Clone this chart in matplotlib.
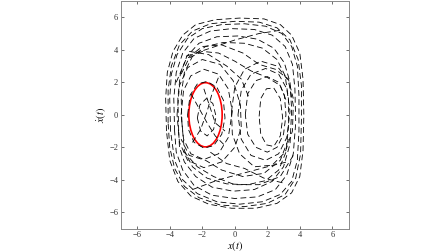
import numpy as np
import matplotlib
matplotlib.use("Agg")
import matplotlib.pyplot as plt
from matplotlib.patches import Ellipse

plt.rcParams['font.family'] = ['Liberation Serif', 'DejaVu Serif']
plt.rcParams['mathtext.fontset'] = 'stix'

# hand-read (x, xdot) waypoints of the trajectory, one list per visible loop
outer_1 = [(-4.2, -1.0), (-4.25, 1.0), (-4.15, 2.6), (-3.8, 3.9), (-3.2, 4.9), (-2.4, 5.55),
           (-1.2, 5.85), (0.3, 5.95), (1.8, 5.9), (2.8, 5.55), (3.5, 4.9), (4.0, 3.8),
           (4.2, 2.2), (4.25, 0.0), (4.2, -2.2), (4.0, -3.8), (3.5, -4.8), (2.6, -5.45),
           (1.3, -5.75), (-0.2, -5.75), (-1.6, -5.5), (-2.7, -5.0), (-3.5, -4.1),
           (-4.0, -2.8), (-4.2, -1.0)]
outer_2 = [(-3.95, -1.0), (-4.0, 1.0), (-3.9, 2.5), (-3.55, 3.7), (-2.9, 4.7), (-2.0, 5.3),
           (-0.8, 5.55), (0.6, 5.6), (1.9, 5.45), (2.9, 5.0), (3.5, 4.2), (3.85, 3.0),
           (3.95, 1.2), (3.95, -1.0), (3.85, -2.8), (3.5, -4.1), (2.8, -4.9), (1.7, -5.35),
           (0.3, -5.5), (-1.1, -5.35), (-2.3, -4.85), (-3.2, -4.0), (-3.7, -2.8), (-3.95, -1.0)]
outer_3 = [(-3.7, -1.0), (-3.75, 1.0), (-3.6, 2.6), (-3.2, 3.8), (-2.5, 4.7), (-1.5, 5.15),
           (-0.2, 5.3), (1.2, 5.25), (2.3, 4.9), (3.1, 4.2), (3.55, 3.1), (3.7, 1.6),
           (3.75, -0.5), (3.6, -2.4), (3.2, -3.7), (2.5, -4.6), (1.4, -5.05), (0.0, -5.15),
           (-1.4, -4.95), (-2.5, -4.35), (-3.2, -3.4), (-3.6, -2.3), (-3.7, -1.0)]
outer_4 = [(-3.45, -1.0), (-3.5, 1.0), (-3.35, 2.5), (-2.95, 3.6), (-2.2, 4.4), (-1.1, 4.8),
           (0.2, 4.85), (1.4, 4.65), (2.4, 4.1), (3.05, 3.2), (3.4, 2.0), (3.5, 0.3),
           (3.4, -1.8), (3.0, -3.2), (2.3, -4.1), (1.2, -4.6), (-0.1, -4.7), (-1.4, -4.45),
           (-2.4, -3.8), (-3.1, -2.9), (-3.4, -2.0), (-3.45, -1.0)]
outer_5 = [(-4.1, -0.5), (-4.1, 1.5), (-3.9, 3.0), (-3.4, 4.3), (-2.6, 5.15), (-1.5, 5.6),
           (0.0, 5.75), (1.5, 5.7), (2.6, 5.35), (3.4, 4.6), (3.9, 3.4), (4.1, 1.8),
           (4.1, -0.3), (4.05, -2.4), (3.75, -3.9), (3.1, -4.9), (2.0, -5.45), (0.6, -5.65),
           (-0.9, -5.55), (-2.2, -5.1), (-3.1, -4.4), (-3.7, -3.3), (-4.0, -2.0), (-4.1, -0.5)]
outer_6 = [(-3.25, -0.5), (-3.3, 1.2), (-3.1, 2.6), (-2.6, 3.6), (-1.8, 4.2), (-0.7, 4.45),
           (0.6, 4.4), (1.7, 4.1), (2.6, 3.4), (3.1, 2.4), (3.3, 1.0), (3.3, -0.8),
           (3.15, -2.3), (2.7, -3.4), (1.9, -4.05), (0.8, -4.3), (-0.5, -4.25), (-1.7, -3.9),
           (-2.6, -3.2), (-3.1, -2.2), (-3.25, -0.5)]
left_1 = [(-3.3, 0.0), (-3.15, 1.5), (-2.7, 2.4), (-1.9, 2.8), (-1.0, 2.5), (-0.4, 1.6),
          (-0.15, 0.2), (-0.4, -1.4), (-1.0, -2.4), (-1.9, -2.75), (-2.7, -2.4),
          (-3.15, -1.5), (-3.3, 0.0)]
left_2 = [(-2.9, 0.0), (-2.75, 1.2), (-2.3, 1.9), (-1.7, 2.05), (-1.1, 1.7), (-0.7, 0.9),
          (-0.6, -0.2), (-0.8, -1.2), (-1.3, -1.9), (-1.9, -2.05), (-2.5, -1.7),
          (-2.85, -0.9), (-2.9, 0.0)]
left_3 = [(-2.3, -0.2), (-2.15, 0.6), (-1.75, 1.0), (-1.35, 0.7), (-1.15, -0.1),
          (-1.3, -0.9), (-1.7, -1.3), (-2.1, -1.0), (-2.3, -0.2)]
left_4 = [(-3.55, 0.0), (-3.4, 1.8), (-2.9, 2.9), (-2.0, 3.4), (-0.9, 3.1), (-0.1, 2.1),
          (0.35, 0.6), (0.4, -0.8), (0.0, -2.0), (-0.8, -2.9), (-1.9, -3.25), (-2.9, -2.8),
          (-3.4, -1.7), (-3.55, 0.0)]
right_1 = [(0.2, 0.0), (0.4, 1.5), (1.0, 2.5), (1.9, 2.85), (2.7, 2.5), (3.2, 1.6),
           (3.4, 0.2), (3.2, -1.4), (2.7, -2.4), (1.9, -2.8), (1.0, -2.5), (0.4, -1.5),
           (0.2, 0.0)]
right_2 = [(0.65, 0.0), (0.8, 1.3), (1.3, 2.1), (2.0, 2.35), (2.7, 2.0), (3.05, 1.2),
           (3.15, 0.0), (3.0, -1.2), (2.6, -2.0), (2.0, -2.3), (1.3, -2.0), (0.8, -1.2),
           (0.65, 0.0)]
right_3 = [(1.5, -0.1), (1.6, 1.0), (1.95, 1.6), (2.4, 1.65), (2.8, 1.0), (2.95, -0.2),
           (2.8, -1.3), (2.4, -1.95), (1.95, -1.85), (1.6, -1.2), (1.5, -0.1)]
right_4 = [(-0.2, 0.2), (0.0, 1.7), (0.6, 2.8), (1.6, 3.3), (2.6, 3.0), (3.3, 2.1),
           (3.6, 0.6), (3.55, -1.0), (3.1, -2.3), (2.3, -3.1), (1.2, -3.2), (0.3, -2.4),
           (-0.15, -1.2), (-0.2, 0.2)]
inner_a = [(-2.7, 1.3), (-2.2, 0.4), (-1.7, -0.5), (-1.2, -1.3), (-0.6, -1.9)]
inner_b = [(-2.6, -1.7), (-2.1, -0.9), (-1.7, 0.2), (-1.4, 1.3), (-1.0, 2.3)]
inner_c = [(-1.9, 1.6), (-1.5, 0.4), (-1.2, -0.5), (-0.6, -1.0)]
cross_top_1 = [(-3.3, 2.5), (-2.8, 3.5), (-2.0, 3.9), (-1.0, 3.8), (0.0, 3.3), (1.0, 2.7),
               (2.0, 2.3), (2.8, 1.8), (3.2, 0.8)]
cross_top_2 = [(-3.6, 2.0), (-3.0, 3.4), (-2.0, 4.2), (-0.8, 4.3), (0.5, 3.8), (1.5, 3.1),
               (2.5, 2.8), (3.3, 2.2), (3.6, 1.0)]
cross_top_3 = [(-3.0, 3.6), (-1.5, 4.1), (0.0, 4.6), (1.5, 5.0), (2.8, 5.2)]
cross_top_4 = [(-2.8, 3.9), (-1.6, 3.7), (-0.5, 3.0), (0.4, 2.2), (0.9, 1.0)]
cross_bot_1 = [(3.3, -1.5), (2.8, -2.8), (1.8, -3.6), (0.5, -3.8), (-0.8, -3.4),
               (-1.8, -2.8), (-2.8, -2.5), (-3.3, -1.5)]
cross_bot_2 = [(3.6, -2.5), (2.8, -3.8), (1.5, -4.3), (0.0, -4.3), (-1.3, -3.8),
               (-2.3, -3.2), (-3.2, -2.2)]
cross_bot_3 = [(-2.6, -4.6), (-1.0, -4.0), (0.5, -3.6), (2.0, -3.2), (3.2, -2.9)]
cross_bot_4 = [(-1.5, -2.3), (-0.5, -3.0), (0.6, -3.3), (1.8, -3.9), (3.0, -4.2)]

strokes = [outer_1, outer_2, outer_3, outer_4, outer_5, outer_6,
           left_1, left_2, left_3, left_4, right_1, right_2, right_3, right_4,
           inner_a, inner_b, inner_c,
           cross_top_1, cross_top_2, cross_top_3, cross_top_4,
           cross_bot_1, cross_bot_2, cross_bot_3, cross_bot_4]

# red ellipse (centre, width, height) in data units
ell_center = (-1.8, 0.0)
ell_w = 2.05
ell_h = 3.95

ticks = [-6, -4, -2, 0, 2, 4, 6]

fig = plt.figure(figsize=(4.48, 2.52), dpi=100)
ax = fig.add_axes([0.270, 0.093, 0.508, 0.903])

for s in strokes:
    s = np.array(s)
    ax.plot(s[:, 0], s[:, 1], color='k', lw=0.6, dashes=(7, 4))

ax.add_patch(Ellipse(ell_center, ell_w, ell_h, fill=False, edgecolor='red', lw=1.2))

ax.set_xlim(-7, 7)
ax.set_ylim(-7, 7)
ax.set_xticks(ticks)
ax.set_yticks(ticks)
ax.tick_params(direction='in', length=2.5, width=0.5, labelsize=6, colors='#333333',
               top=True, right=True, pad=2)
for sp in ax.spines.values():
    sp.set_color('#888888')
    sp.set_linewidth(0.7)
ax.set_xlabel('$x(t)$', fontsize=7.5, labelpad=0)
ax.set_ylabel(r'$\dot{x}(t)$', fontsize=7.5, labelpad=1)

fig.savefig('out.png', dpi=100)
